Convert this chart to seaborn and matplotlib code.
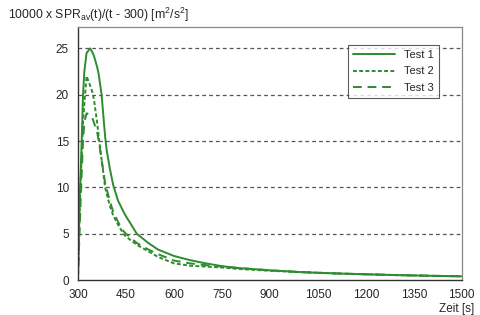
# import required libraries
import matplotlib
matplotlib.use("Agg")
import matplotlib.pyplot as plt
import seaborn as sns
import pandas as pd

# data
zeit = [300, 305, 310, 316, 320, 327, 338, 345, 350, 360, 365, 374, 385, 390, 400,
        410, 425, 442, 450, 484, 520, 550, 600, 650, 700, 750, 800, 900, 1000,
        1100, 1200, 1300, 1400, 1500]
test1 = [0, 8, 13, 20, 22.5, 24.5, 25, 24.6, 24.2, 23, 22.2, 20, 15.5, 14, 12,
         10.3, 8.6, 7.4, 6.9, 5, 4, 3.3, 2.6, 2.15, 1.8, 1.5, 1.3, 1.05, 0.85,
         0.72, 0.62, 0.53, 0.46, 0.4]
test2 = [0, 7, 12, 17, 19, 22, 21, 20.3, 19.5, 17, 15.5, 13, 10, 9.3, 8,
         7, 6, 5, 4.7, 3.8, 3.1, 2.5, 1.8, 1.55, 1.45, 1.35, 1.2, 1.0, 0.85,
         0.72, 0.62, 0.53, 0.46, 0.4]
test3 = [0, 5, 10, 15, 17, 18, 17.8, 17.5, 17, 16, 15, 13, 10.5, 9.8, 8.5,
         7.4, 6.3, 5.3, 5.0, 4.0, 3.3, 2.8, 2.1, 1.8, 1.6, 1.45, 1.3, 1.05, 0.85,
         0.72, 0.62, 0.53, 0.46, 0.4]
labels = ["Test 1", "Test 2", "Test 3"]

df = pd.DataFrame({
    "Zeit": zeit * 3,
    "Wert": test1 + test2 + test3,
    "Test": [labels[0]] * len(zeit) + [labels[1]] * len(zeit) + [labels[2]] * len(zeit),
})

# set the style
sns.set_style("white")
plt.rcParams['font.family'] = ['Liberation Sans', 'DejaVu Sans']

green = "#2e8b2e"
fig = plt.figure(figsize=(4.81, 3.15), dpi=100)
ax = fig.add_axes([0.162, 0.111, 0.798, 0.803])

sns.lineplot(data=df, x="Zeit", y="Wert", style="Test", color=green,
             dashes={"Test 1": "", "Test 2": (2, 1.2), "Test 3": (4.5, 3)},
             linewidth=1.4, ax=ax)

# axes
ax.set_xlim(300, 1500)
ax.set_ylim(0, 27.3)
ax.set_xticks(range(300, 1501, 150))
ax.set_yticks(range(0, 26, 5))
ax.set_xlabel("")
ax.set_ylabel("")
ax.tick_params(axis="both", labelsize=8.5, length=3, color="#444444", direction="out")
ax.tick_params(axis="x", pad=3.5)

# horizontal dashed grid
for y in range(5, 26, 5):
    ax.axhline(y, color="#555555", linestyle=(0, (3, 2.5)), linewidth=0.9, zorder=0)

for side in ["top", "right"]:
    ax.spines[side].set_color("#888888")
    ax.spines[side].set_linewidth(0.9)
for side in ["left", "bottom"]:
    ax.spines[side].set_color("#333333")
    ax.spines[side].set_linewidth(1.0)

# titles
fig.text(0.017, 0.952, r"10000 x SPR$_{\mathregular{av}}$(t)/(t - 300) [m$^{\mathregular{2}}$/s$^{\mathregular{2}}$]",
         fontsize=8.8, ha="left", va="center")
fig.text(0.985, 0.0, "Zeit [s]", fontsize=8.5, ha="right", va="bottom")

# legend
leg = ax.legend(loc="upper right", bbox_to_anchor=(0.94, 0.93), borderaxespad=0,
                fontsize=8, frameon=True, fancybox=False, edgecolor="#333333",
                handlelength=3.8, borderpad=0.45, labelspacing=0.6)
leg.get_frame().set_linewidth(0.8)

plt.savefig("out.png", dpi=100)
plt.close(fig)
